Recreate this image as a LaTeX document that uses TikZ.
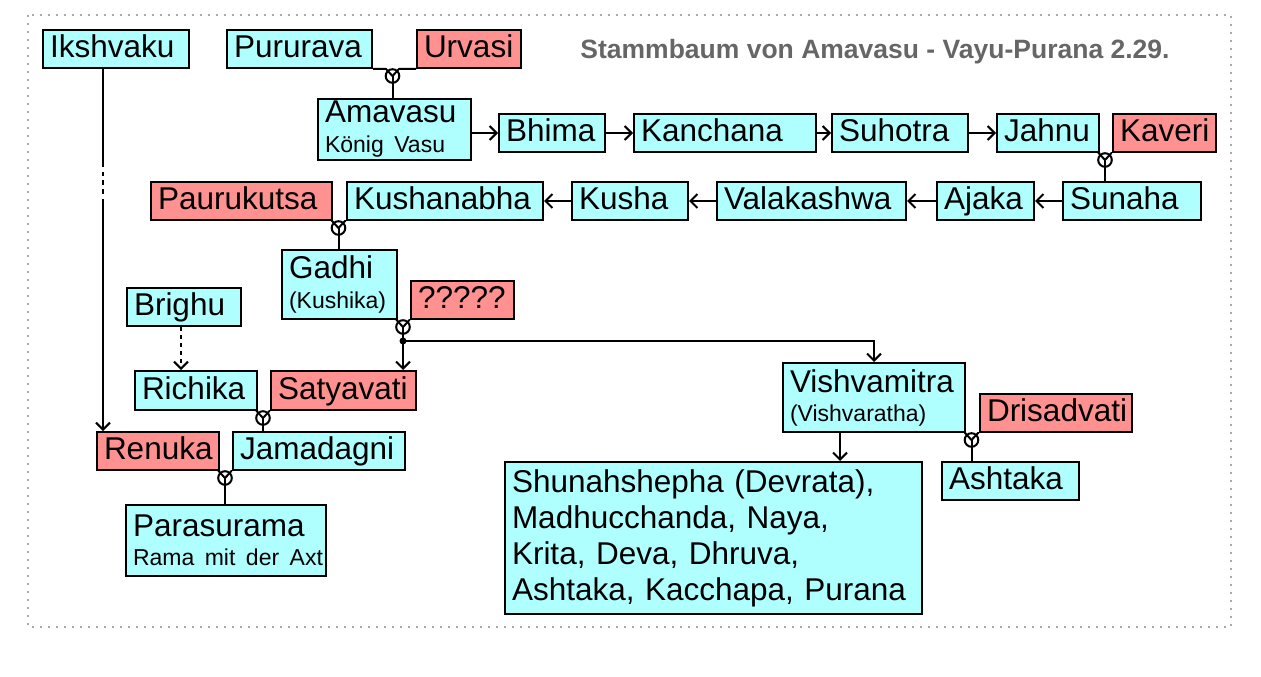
\documentclass[tikz,border=0pt]{standalone}
\usepackage{fontspec}
\setmainfont{Liberation Sans}
\usetikzlibrary{arrows.meta,calc}
\definecolor{cyb}{RGB}{176,255,255}
\definecolor{pkb}{RGB}{255,145,145}
\definecolor{ttl}{RGB}{102,102,102}
\definecolor{brd}{RGB}{170,170,170}
\newcommand\mainf{\fontsize{31.5}{36}\selectfont}
\newcommand\subf{\fontsize{23}{27}\selectfont}
\newcommand\mybox[7]{%
  \pgfmathsetmacro\mbW{#5-#3}%
  \pgfmathsetmacro\mbH{#6-#4}%
  \pgfmathsetmacro\mbT{#5-#3-14}%
  \node[#2, anchor=north west, minimum width=\mbW pt, minimum height=\mbH pt, text width=\mbT pt] (#1) at (#3,#4) {#7};}
% marriage: left box, right box, centre x, centre y, name
\newcommand\marry[5]{%
  \coordinate (#5) at (#3,#4);
  \draw[ln, line join=round] (#1.south east) -- ($(#1.south east -| #5)+(-6.5,0)$) -- (#5)
     -- ($(#2.south west -| #5)+(6.5,0)$) -- (#2.south west);
  \draw[ln] (#5) circle[radius=6.8pt];}
\tikzset{
  ln/.style={line width=2pt, black},
  arr/.style={ln, -{Straight Barb[length=7pt,width=14pt]}},
  pbox/.style={draw=black, line width=2pt, inner xsep=7pt, inner ysep=0pt, align=left, font=\mainf},
  cy/.style={pbox, fill=cyb},
  pk/.style={pbox, fill=pkb},
  one/.style={text height=23pt, text depth=5.5pt},
}
\begin{document}
\begin{tikzpicture}[x=1pt,y=-1pt]
\useasboundingbox (0,0) rectangle (1261,677);
\draw[brd, line width=2pt, dash pattern=on 2pt off 6pt] (28,15) rectangle (1231,627);
\node[font=\bfseries\fontsize{26.5}{30}\selectfont, text=ttl] (title) at (875,52) {Stammbaum von Amavasu - Vayu-Purana 2.29.};
% row 1
\mybox{ik}{cy,one}{42}{29}{188}{67}{Ikshvaku}
\mybox{pu}{cy,one}{226}{29}{371}{67}{Pururava}
\mybox{ur}{pk,one}{416}{29}{520}{67}{Urvasi}
% row 2
\mybox{am}{cy}{317}{98}{470}{159}{\mbox{Amavasu}\\[-6pt]\mbox{\subf König Vasu}}
\mybox{bh}{cy,one}{498}{113}{604}{151}{Bhima}
\mybox{ka}{cy,one}{633}{113}{815}{151}{Kanchana}
\mybox{su}{cy,one}{831}{113}{967}{151}{Suhotra}
\mybox{ja}{cy,one}{996}{113}{1098}{151}{Jahnu}
\mybox{kv}{pk,one}{1112}{113}{1215}{151}{Kaveri}
% row 3
\mybox{sn}{cy,one}{1062}{181}{1200}{219}{Sunaha}
\mybox{aj}{cy,one}{936}{181}{1033}{219}{Ajaka}
\mybox{va}{cy,one}{716}{181}{905}{219}{Valakashwa}
\mybox{ku}{cy,one}{571}{181}{687}{219}{Kusha}
\mybox{kn}{cy,one}{346}{181}{542}{219}{Kushanabha}
\mybox{pc}{pk,one}{150}{181}{331}{219}{Paurukutsa}
% middle
\mybox{ga}{cy}{281}{249}{396}{318}{\mbox{Gadhi}\\[-6pt]\mbox{\subf (Kushika)}}
\mybox{qq}{pk,one}{410}{280}{513}{318}{?????}
\mybox{br}{cy,one}{126}{287}{240}{325}{Brighu}
\mybox{ri}{cy,one}{134}{370}{256}{409}{Richika}
\mybox{sa}{pk,one}{270}{370}{415}{409}{Satyavati}
\mybox{re}{pk,one}{96}{431}{218}{469}{Renuka}
\mybox{jm}{cy,one}{232}{431}{404}{469}{Jamadagni}
\mybox{pa}{cy}{125}{504}{325}{575}{\mbox{Parasurama}\\[-7pt]\mbox{\subf Rama mit der Axt}}
\mybox{vi}{cy}{782}{362}{964}{431}{\mbox{Vishvamitra}\\[-7pt]\mbox{\subf (Vishvaratha)}}
\mybox{dr}{pk,one}{979}{393}{1131}{431}{Drisadvati}
\mybox{as}{cy,one}{941}{461}{1078}{499}{Ashtaka}
\mybox{big}{cy}{504}{461}{921}{613}{\mbox{Shunahshepha (Devrata),}\\\mbox{Madhucchanda, Naya,}\\\mbox{Krita, Deva, Dhruva,}\\\mbox{Ashtaka, Kacchapa, Purana}}
% marriages
\marry{pu}{ur}{392.5}{76}{m1}
\draw[ln] (m1) -- (am.north -| m1);
\marry{ja}{kv}{1105}{160}{m2}
\draw[ln] (m2) -- (sn.north -| m2);
\marry{pc}{kn}{338.5}{228}{m3}
\draw[ln] (m3) -- (ga.north -| m3);
\marry{ga}{qq}{403}{327}{m4}
\coordinate (dot) at (403,341);
\draw[ln] (m4) -- (dot);
\fill (dot) circle[radius=3.5pt];
\marry{ri}{sa}{263}{418}{m5}
\draw[ln] (m5) -- (jm.north -| m5);
\marry{re}{jm}{225}{478}{m6}
\draw[ln] (m6) -- (pa.north -| m6);
\marry{vi}{dr}{971.5}{440}{m7}
\draw[ln] (m7) -- (as.north -| m7);
% arrows
\draw[arr] (am.east |- bh.west) -- (bh.west);
\draw[arr] (bh.east) -- (ka.west);
\draw[arr] (ka.east) -- (su.west);
\draw[arr] (su.east) -- (ja.west);
\draw[arr] (sn.west) -- (aj.east);
\draw[arr] (aj.west) -- (va.east);
\draw[arr] (va.west) -- (ku.east);
\draw[arr] (ku.west) -- (kn.east);
\coordinate (ikx) at (103,0);
\draw[arr, dash pattern=on 98pt off 5pt on 4pt off 4pt on 5pt off 4pt on 5pt off 5pt on 400pt] (ik.south -| ikx) -- (re.north -| ikx);
\coordinate (brx) at (181,0);
\draw[arr, dash pattern=on 4pt off 4pt] (br.south -| brx) -- (ri.north -| brx);
\draw[arr] (dot) -- (sa.north -| dot);
\coordinate (vix) at (874,0);
\draw[arr] (dot) -| (vi.north -| vix);
\coordinate (bgx) at (840,0);
\draw[arr] (vi.south -| bgx) -- (big.north -| bgx);
\end{tikzpicture}
\end{document}
